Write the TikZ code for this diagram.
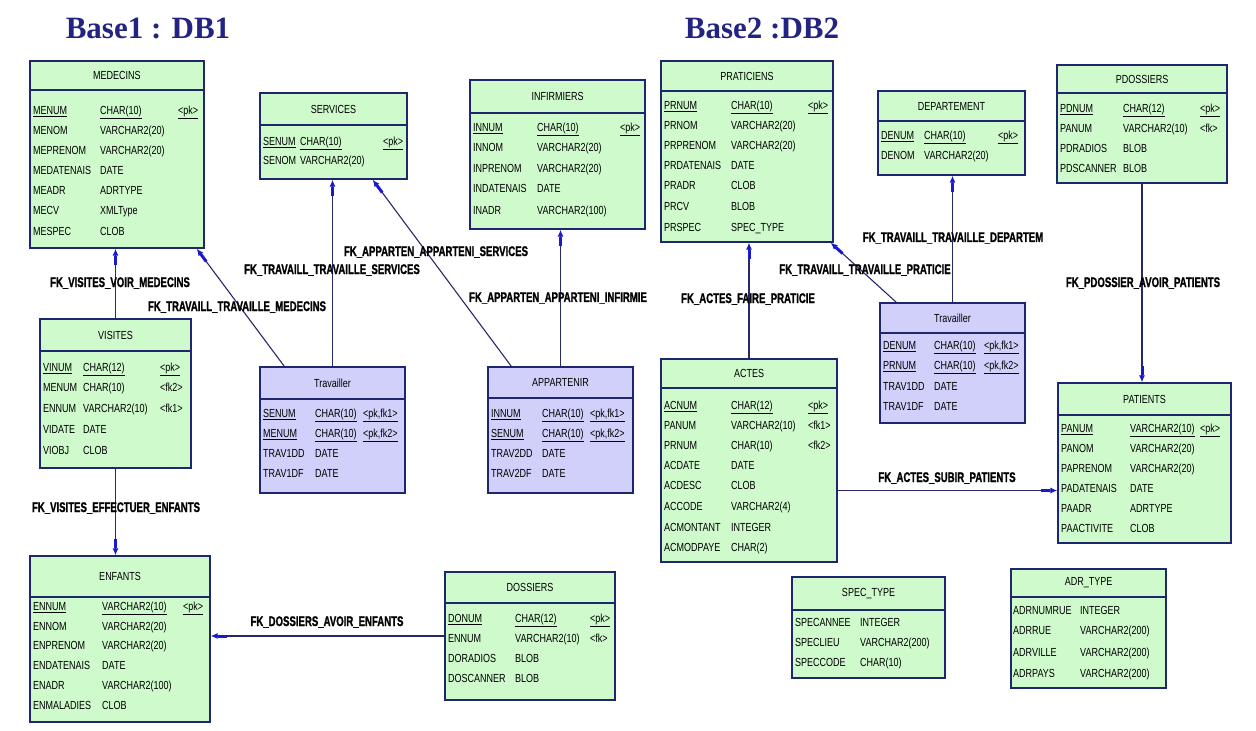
\documentclass[tikz,border=0pt]{standalone}
\usepackage{fontspec}
\setmainfont{Liberation Sans}
\newfontfamily\titlefont{Liberation Serif}
\newfontfamily\lblfont[BoldFeatures={FakeBold=1.5}]{Liberation Sans}
\usetikzlibrary{arrows.meta,fit}

\definecolor{tblgreen}{RGB}{206,250,204}
\definecolor{tblpurple}{RGB}{208,208,250}
\definecolor{tblline}{RGB}{30,38,110}
\definecolor{linkline}{RGB}{40,40,105}
\definecolor{tipblue}{RGB}{25,25,205}
\definecolor{titleblue}{RGB}{35,35,130}

\newcommand{\tall}[1]{\scalebox{1}[1.3]{#1}}
\newcommand{\taller}[1]{\scalebox{1}[1.45]{#1}}
\newcommand{\pkfmt}[2]{\ifnum#1=1 \underline{#2}\else#2\fi}
\def\nokey{-}

% table box: name, fill, left, top, right, bottom, header line, title
\newcommand{\dbtable}[8]{%
  \node[tbl, fill=#2, fit={(#3,#4) (#5,#6)}] (#1) {};
  \draw[tblline, line width=1.2pt] (#3,#7) -- (#5,#7);
  \node[hdr] (#1-title) at ({(#3+#5)/2},{(#4+#7)/2}) {\tall{#8}};
}
% columns: table, name x, type x, key x, rows y/name/type/key/pk
\newcommand{\dbrows}[5]{%
  \foreach \ry/\rn/\rt/\rk/\rp [count=\ri] in {#5}{
    \node[cell] (#1-n\ri) at (#2,\ry+4) {\tall{\pkfmt{\rp}{\rn}}};
    \node[cell] (#1-t\ri) at (#3,\ry+4) {\tall{\pkfmt{\rp}{\rt}}};
    \edef\keytxt{\rk}%
    \ifx\keytxt\nokey\else
      \node[cell] (#1-k\ri) at (#4,\ry+4) {\tall{\pkfmt{\rp}{\rk}}};
    \fi
  }
}

\tikzset{
  tbl/.style={draw=tblline, line width=1.4pt, inner sep=0pt},
  hdr/.style={font=\fontsize{9}{10}\selectfont, inner sep=0pt},
  cell/.style={font=\fontsize{9}{10}\selectfont, inner sep=0pt, anchor=base west},
  fk/.style={draw=linkline, line width=1.1pt,
    -{Rectangle[length=9pt,width=3pt,color=tipblue] Latex[length=7pt,width=6pt,color=tipblue]}},
  fklbl/.style={font=\lblfont\bfseries\fontsize{9.6}{11}\selectfont, inner sep=0pt},
  dbtitle/.style={font=\titlefont\bfseries\fontsize{31}{34}\selectfont, text=titleblue, inner sep=0pt}
}

\begin{document}
\begin{tikzpicture}[x=1pt,y=-1pt]
  \useasboundingbox (0,0) rectangle (1256,731);

  \node[dbtitle] (base1) at (148,28) {Base1 : DB1};
  \node[dbtitle] (base2) at (762,28) {Base2 :DB2};

  % DB1
  \dbtable{medecins}{tblgreen}{30}{61}{204}{248}{90}{MEDECINS}
  \dbrows{medecins}{33}{100}{178}{110/MENUM/CHAR(10)/<pk>/1, 130/MENOM/VARCHAR2(20)/-/0,
    150/MEPRENOM/VARCHAR2(20)/-/0, 170/MEDATENAIS/DATE/-/0, 190/MEADR/ADRTYPE/-/0,
    210/MECV/XMLType/-/0, 231/MESPEC/CLOB/-/0}

  \dbtable{services}{tblgreen}{260}{93}{407}{179}{125}{SERVICES}
  \dbrows{services}{263}{300}{383}{141/SENUM/CHAR(10)/<pk>/1, 160/SENOM/VARCHAR2(20)/-/0}

  \dbtable{infirm}{tblgreen}{470}{80}{645}{229}{113}{INFIRMIERS}
  \dbrows{infirm}{473}{537}{620}{127/INNUM/CHAR(10)/<pk>/1, 147/INNOM/VARCHAR2(20)/-/0,
    168/INPRENOM/VARCHAR2(20)/-/0, 188/INDATENAIS/DATE/-/0, 210/INADR/VARCHAR2(100)/-/0}

  \dbtable{visites}{tblgreen}{40}{319}{191}{468}{351}{VISITES}
  \dbrows{visites}{43}{83}{160}{367/VINUM/CHAR(12)/<pk>/1, 387/MENUM/CHAR(10)/<fk2>/0,
    408/ENNUM/VARCHAR2(10)/<fk1>/0, 429/VIDATE/DATE/-/0, 450/VIOBJ/CLOB/-/0}

  \dbtable{travl}{tblpurple}{260}{367}{405}{493}{399}{Travailler}
  \dbrows{travl}{263}{315}{363}{413/SENUM/CHAR(10)/{<pk,fk1>}/1, 433/MENUM/CHAR(10)/{<pk,fk2>}/1,
    453/TRAV1DD/DATE/-/0, 473/TRAV1DF/DATE/-/0}

  \dbtable{appart}{tblpurple}{488}{367}{633}{493}{398}{APPARTENIR}
  \dbrows{appart}{491}{542}{590}{413/INNUM/CHAR(10)/{<pk,fk1>}/1, 433/SENUM/CHAR(10)/{<pk,fk2>}/1,
    453/TRAV2DD/DATE/-/0, 473/TRAV2DF/DATE/-/0}

  \dbtable{enfants}{tblgreen}{30}{556}{210}{722}{597}{ENFANTS}
  \dbrows{enfants}{33}{102}{183}{606/ENNUM/VARCHAR2(10)/<pk>/1, 626/ENNOM/VARCHAR2(20)/-/0,
    645/ENPRENOM/VARCHAR2(20)/-/0, 665/ENDATENAIS/DATE/-/0, 685/ENADR/VARCHAR2(100)/-/0,
    705/ENMALADIES/CLOB/-/0}

  \dbtable{dossiers}{tblgreen}{445}{572}{615}{700}{603}{DOSSIERS}
  \dbrows{dossiers}{448}{515}{590}{618/DONUM/CHAR(12)/<pk>/1, 638/ENNUM/VARCHAR2(10)/<fk>/0,
    658/DORADIOS/BLOB/-/0, 678/DOSCANNER/BLOB/-/0}

  % DB2
  \dbtable{pratic}{tblgreen}{661}{61}{833}{242}{91}{PRATICIENS}
  \dbrows{pratic}{664}{731}{808}{105/PRNUM/CHAR(10)/<pk>/1, 125/PRNOM/VARCHAR2(20)/-/0,
    145/PRPRENOM/VARCHAR2(20)/-/0, 165/PRDATENAIS/DATE/-/0, 185/PRADR/CLOB/-/0,
    206/PRCV/BLOB/-/0, 227/PRSPEC/SPEC\_TYPE/-/0}

  \dbtable{depart}{tblgreen}{878}{91}{1025}{175}{121}{DEPARTEMENT}
  \dbrows{depart}{881}{924}{998}{135/DENUM/CHAR(10)/<pk>/1, 155/DENOM/VARCHAR2(20)/-/0}

  \dbtable{pdoss}{tblgreen}{1057}{65}{1227}{183}{93}{PDOSSIERS}
  \dbrows{pdoss}{1060}{1123}{1200}{108/PDNUM/CHAR(12)/<pk>/1, 128/PANUM/VARCHAR2(10)/<fk>/0,
    148/PDRADIOS/BLOB/-/0, 168/PDSCANNER/BLOB/-/0}

  \dbtable{travr}{tblpurple}{880}{303}{1025}{423}{333}{Travailler}
  \dbrows{travr}{883}{934}{984}{345/DENUM/CHAR(10)/{<pk,fk1>}/1, 365/PRNUM/CHAR(10)/{<pk,fk2>}/1,
    386/TRAV1DD/DATE/-/0, 406/TRAV1DF/DATE/-/0}

  \dbtable{actes}{tblgreen}{661}{359}{837}{562}{388}{ACTES}
  \dbrows{actes}{664}{731}{808}{405/ACNUM/CHAR(12)/<pk>/1, 425/PANUM/VARCHAR2(10)/<fk1>/0,
    445/PRNUM/CHAR(10)/<fk2>/0, 465/ACDATE/DATE/-/0, 485/ACDESC/CLOB/-/0,
    506/ACCODE/VARCHAR2(4)/-/0, 527/ACMONTANT/INTEGER/-/0, 547/ACMODPAYE/CHAR(2)/-/0}

  \dbtable{patients}{tblgreen}{1058}{383}{1231}{543}{415}{PATIENTS}
  \dbrows{patients}{1061}{1130}{1200}{428/PANUM/VARCHAR2(10)/<pk>/1, 448/PANOM/VARCHAR2(20)/-/0,
    468/PAPRENOM/VARCHAR2(20)/-/0, 488/PADATENAIS/DATE/-/0, 508/PAADR/ADRTYPE/-/0,
    528/PAACTIVITE/CLOB/-/0}

  \dbtable{spectype}{tblgreen}{792}{577}{945}{678}{610}{SPEC\_TYPE}
  \dbrows{spectype}{795}{860}{0}{622/SPECANNEE/INTEGER/-/0, 642/SPECLIEU/VARCHAR2(200)/-/0,
    662/SPECCODE/CHAR(10)/-/0}

  \dbtable{adrtype}{tblgreen}{1011}{569}{1166}{688}{597}{ADR\_TYPE}
  \dbrows{adrtype}{1013}{1080}{0}{610/ADRNUMRUE/INTEGER/-/0, 630/ADRRUE/VARCHAR2(200)/-/0,
    652/ADRVILLE/VARCHAR2(200)/-/0, 673/ADRPAYS/VARCHAR2(200)/-/0}

  % foreign keys
  \draw[fk] (visites.north) -- (visites.north |- medecins.south);
  \draw[fk] ([xshift=25pt]travl.north west) -- ([xshift=-8pt]medecins.south east);
  \draw[fk] (travl.north) -- (travl.north |- services.south);
  \draw[fk] ([xshift=24pt]appart.north west) -- ([xshift=-35pt]services.south east);
  \draw[fk] (appart.north) -- (appart.north |- infirm.south);
  \draw[fk] (visites.south) -- (visites.south |- enfants.north);
  \draw[fk] (dossiers.west) -- (dossiers.west -| enfants.east);
  \draw[fk] (actes.north) -- (actes.north |- pratic.south);
  \draw[fk] ([xshift=17pt]travr.north west) -- ([xshift=-3pt]pratic.south east);
  \draw[fk] (travr.north) -- (travr.north |- depart.south);
  \draw[fk] (pdoss.south) -- (pdoss.south |- patients.north);
  \coordinate (subir) at ([yshift=-30pt]actes.east);
  \draw[fk] (subir) -- (subir -| patients.west);

  \node[fklbl] (fk-vis-med) at (120,283) {\taller{FK\_VISITES\_VOIR\_MEDECINS}};
  \node[fklbl] (fk-trav-med) at (237,307) {\taller{FK\_TRAVAILL\_TRAVAILLE\_MEDECINS}};
  \node[fklbl] (fk-trav-ser) at (332,270) {\taller{FK\_TRAVAILL\_TRAVAILLE\_SERVICES}};
  \node[fklbl] (fk-app-ser) at (436,252) {\taller{FK\_APPARTEN\_APPARTENI\_SERVICES}};
  \node[fklbl] (fk-app-inf) at (558,298) {\taller{FK\_APPARTEN\_APPARTENI\_INFIRMIE}};
  \node[fklbl] (fk-vis-enf) at (116,508) {\taller{FK\_VISITES\_EFFECTUER\_ENFANTS}};
  \node[fklbl] (fk-dos-enf) at (327,622) {\taller{FK\_DOSSIERS\_AVOIR\_ENFANTS}};
  \node[fklbl] (fk-act-pra) at (748,299) {\taller{FK\_ACTES\_FAIRE\_PRATICIE}};
  \node[fklbl] (fk-trav-pra) at (865,270) {\taller{FK\_TRAVAILL\_TRAVAILLE\_PRATICIE}};
  \node[fklbl] (fk-trav-dep) at (953,238) {\taller{FK\_TRAVAILL\_TRAVAILLE\_DEPARTEM}};
  \node[fklbl] (fk-pdo-pat) at (1143,283) {\taller{FK\_PDOSSIER\_AVOIR\_PATIENTS}};
  \node[fklbl] (fk-act-pat) at (947,478) {\taller{FK\_ACTES\_SUBIR\_PATIENTS}};
\end{tikzpicture}
\end{document}
